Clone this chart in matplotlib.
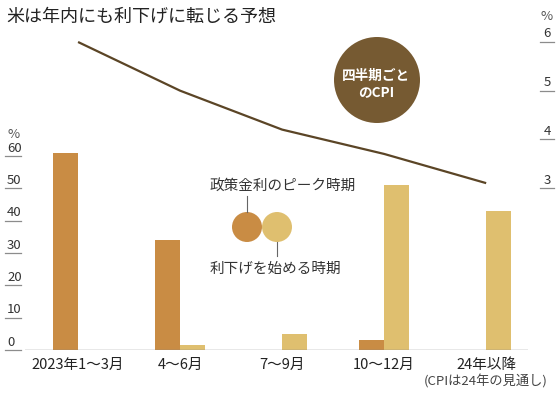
import matplotlib
matplotlib.use("Agg")
import matplotlib.pyplot as plt
from matplotlib import transforms
from matplotlib.patches import Ellipse
import numpy as np

plt.rcParams['font.family'] = ['Noto Sans CJK JP', 'DejaVu Sans']

# données
quarters = ['2023年1～3月', '4～6月', '7～9月', '10～12月', '24年以降']
peak = [61, 34, 0, 3, 0]          # 政策金利のピーク時期 (%)
first_cut = [0, 1.5, 5, 51, 43]   # 利下げを始める時期 (%)
cpi = [6.0, 5.0, 4.2, 3.7, 3.1]   # 四半期ごとのCPI (%)
left_ticks = [0, 10, 20, 30, 40, 50, 60]
right_ticks = [3, 4, 5, 6]

DARK = '#c98c44'
LIGHT = '#dfbf6f'
BROWN = '#5b4526'
BADGE = '#765a32'
NUM_FONT = ['Liberation Sans Narrow', 'Noto Sans CJK JP']

W, H = 559, 393
PX_PER_PCT = 3.233   # pixels par point de %
PX_PER_CPI = 48.67


def fx(px):
    return px / W


def fy(py):
    return 1 - py / H


fig = plt.figure(figsize=(W / 100, H / 100), dpi=100)
ax = fig.add_axes([fx(25), fy(350), (528 - 25) / W, (350 - 20) / H])
ax2 = ax.twinx()

x = np.arange(len(quarters))
w = 0.245
ax.bar(x - w / 2, peak, w, color=DARK, zorder=2)
ax.bar(x + w / 2, first_cut, w, color=LIGHT, zorder=2)
ax.set_xlim(-0.52, 4.41)
ax.set_ylim(0, 330 / PX_PER_PCT)

ax2.plot(x, cpi, color=BROWN, lw=1.6, solid_capstyle='butt')
ax2.set_ylim(3 - 162 / PX_PER_CPI, 6 + 22 / PX_PER_CPI)

for a in (ax, ax2):
    a.set_xticks([])
    a.set_yticks([])
    for s in a.spines.values():
        s.set_visible(False)
ax.axhline(0, color='#8a8a8a', lw=1.0, zorder=3)

# axe gauche : chiffres soulignés
for v in left_ticks:
    py = 350 - v * PX_PER_PCT
    fig.text(fx(7), fy(py - 1.5), str(v), ha='left', va='bottom',
             fontsize=9.5, color='#333333', family=NUM_FONT)
    fig.add_artist(plt.Line2D([fx(5), fx(21)], [fy(py), fy(py)], color='#8c8c8c', lw=0.9))
fig.text(fx(7), fy(134), '%', ha='left', va='center', fontsize=9.5, color='#555555')

# axe droit
for v in right_ticks:
    py = 188 - (v - 3) * PX_PER_CPI
    fig.text(fx(547), fy(py - 1.5), str(v), ha='center', va='bottom',
             fontsize=9.5, color='#333333', family=NUM_FONT)
    fig.add_artist(plt.Line2D([fx(540), fx(554)], [fy(py), fy(py)], color='#8c8c8c', lw=0.9))
fig.text(fx(547), fy(16), '%', ha='center', va='center', fontsize=9.5, color='#555555')

# étiquettes des trimestres
tx = transforms.blended_transform_factory(ax.transData, fig.transFigure)
for i, q in enumerate(quarters):
    fig.text(i, fy(365), q, transform=tx, ha='center', va='center',
             fontsize=10.5, color='#222222', family=NUM_FONT)
fig.text(4, fy(381), '(CPIは24年の見通し)', transform=tx, ha='center', va='center',
         fontsize=9.5, color='#444444', family=NUM_FONT)

# titre
fig.text(fx(6), fy(17), '米は年内にも利下げに転じる予想', ha='left', va='center',
         fontsize=13, color='#222222')

# pastille CPI
fig.patches.append(Ellipse((fx(377), fy(80)), 86 / W, 86 / H, transform=fig.transFigure,
                           facecolor=BADGE, edgecolor='none'))
fig.text(fx(376), fy(84), '四半期ごと\nのCPI', ha='center', va='center', fontsize=9.8,
         fontweight='bold', color='white', linespacing=1.2)

# légende
fig.patches.append(Ellipse((fx(247), fy(227)), 30 / W, 30 / H, transform=fig.transFigure,
                           facecolor=DARK, edgecolor='none'))
fig.patches.append(Ellipse((fx(277), fy(227)), 30 / W, 30 / H, transform=fig.transFigure,
                           facecolor=LIGHT, edgecolor='none'))
fig.add_artist(plt.Line2D([fx(247), fx(247)], [fy(196), fy(212)], color='#666666', lw=0.8))
fig.add_artist(plt.Line2D([fx(277), fx(277)], [fy(242), fy(256)], color='#666666', lw=0.8))
fig.text(fx(210), fy(186), '政策金利のピーク時期', ha='left', va='center',
         fontsize=10.5, color='#333333')
fig.text(fx(210), fy(269), '利下げを始める時期', ha='left', va='center',
         fontsize=10.5, color='#333333')

fig.savefig('out.png', dpi=100, facecolor='white')
